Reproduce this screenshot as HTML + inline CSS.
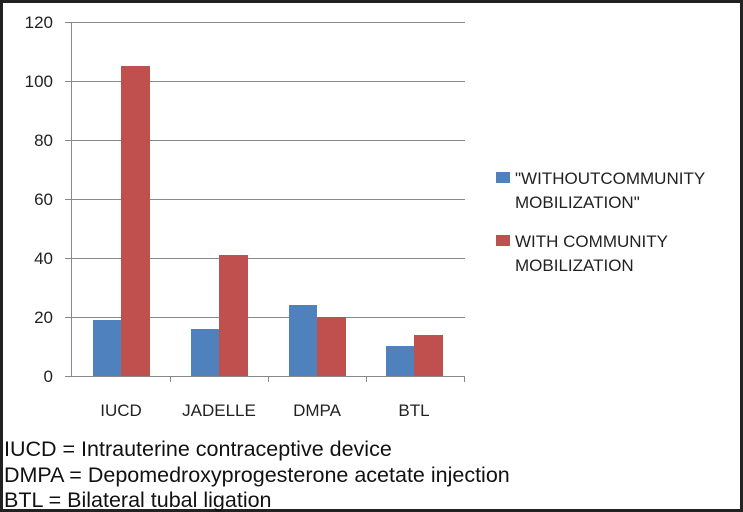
<!DOCTYPE html>
<html><head><meta charset="utf-8"><style>
html,body{margin:0;padding:0;background:#fff}
svg{display:block}
</style></head><body>
<svg width="743" height="512" xmlns="http://www.w3.org/2000/svg" font-family="Liberation Sans, sans-serif">
<rect x="0" y="0" width="743" height="512" fill="#fff"/>
<rect x="1.5" y="1.5" width="740" height="509" fill="none" stroke="#222" stroke-width="3"/>
<g stroke="#888" stroke-width="1">
<line x1="65" y1="22.5" x2="465" y2="22.5"/>
<line x1="65" y1="81.5" x2="465" y2="81.5"/>
<line x1="65" y1="140.5" x2="465" y2="140.5"/>
<line x1="65" y1="199.5" x2="465" y2="199.5"/>
<line x1="65" y1="258.5" x2="465" y2="258.5"/>
<line x1="65" y1="317.5" x2="465" y2="317.5"/>
<line x1="65" y1="376.5" x2="465" y2="376.5"/>
<line x1="71.5" y1="22" x2="71.5" y2="377"/>
<line x1="170.5" y1="376" x2="170.5" y2="382"/>
<line x1="268.5" y1="376" x2="268.5" y2="382"/>
<line x1="366.5" y1="376" x2="366.5" y2="382"/>
<line x1="464.5" y1="376" x2="464.5" y2="382"/>
</g>
<g fill="#4f81bd">
<rect x="93" y="320" width="28" height="56"/>
<rect x="191" y="329" width="28" height="47"/>
<rect x="289" y="305" width="28" height="71"/>
<rect x="386" y="346" width="28" height="30"/>
</g>
<g fill="#c0504d">
<rect x="121" y="66" width="29" height="310"/>
<rect x="219" y="255" width="29" height="121"/>
<rect x="317" y="317" width="29" height="59"/>
<rect x="414" y="335" width="29" height="41"/>
</g>
<g font-size="17" fill="#222" text-anchor="end">
<text x="53" y="28">120</text>
<text x="53" y="87">100</text>
<text x="53" y="146">80</text>
<text x="53" y="205">60</text>
<text x="53" y="264">40</text>
<text x="53" y="323">20</text>
<text x="53" y="382">0</text>
</g>
<g font-size="17" fill="#222" text-anchor="middle">
<text x="121" y="416">IUCD</text>
<text x="219" y="416">JADELLE</text>
<text x="317" y="416">DMPA</text>
<text x="414" y="416">BTL</text>
</g>
<rect x="496" y="172" width="14" height="11" fill="#4f81bd"/>
<rect x="496" y="235" width="14" height="11" fill="#c0504d"/>
<g font-size="17" fill="#222">
<text x="515" y="184">"WITHOUTCOMMUNITY</text>
<text x="515" y="208">MOBILIZATION"</text>
<text x="515" y="247">WITH COMMUNITY</text>
<text x="515" y="271">MOBILIZATION</text>
</g>
<g font-size="21.5" fill="#111">
<text x="4" y="456">IUCD = Intrauterine contraceptive device</text>
<text x="4" y="482">DMPA = Depomedroxyprogesterone acetate injection</text>
<text x="4" y="507">BTL = Bilateral tubal ligation</text>
</g>
</svg>
</body></html>
